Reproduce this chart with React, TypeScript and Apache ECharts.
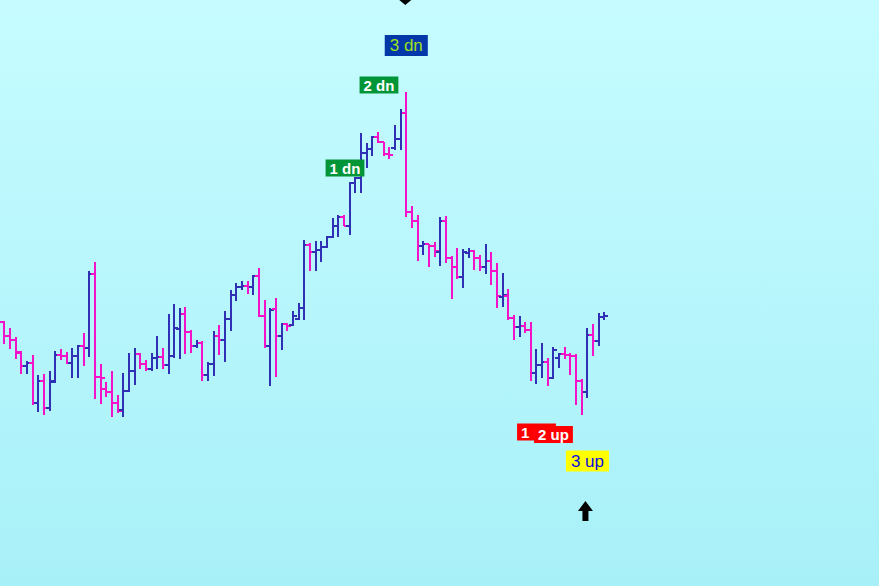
import React, { useEffect, useRef } from "react";
import * as echarts from "echarts";

const CATEGORY_COUNT = 155;
const categories = Array.from({ length: CATEGORY_COUNT }, (_, i) => String(i + 1));

const opens = [
  27.8, 26.4, 26.0, 24.8, 23.4, 23.7, 19.7, 21.9, 19.2, 21.8,
  24.5, 24.4, 23.7, 24.4, 25.4, 25.2, 32.6, 22.3, 21.1, 20.8,
  19.7, 19.0, 20.9, 22.9, 24.6, 23.6, 23.1, 24.2, 24.3, 23.5,
  24.4, 27.1, 28.6, 26.8, 25.4, 25.7, 22.5, 23.6, 26.4, 26.0,
  28.1, 30.5, 31.3, 31.4, 31.3, 32.4, 28.4, 25.4, 29.1, 26.4,
  27.6, 27.5, 28.1, 29.2, 35.5, 34.8, 35.0, 35.3, 36.3, 37.4,
  38.3, 37.4, 41.7, 42.2, 44.7, 45.1, 46.3, 45.8, 44.6, 45.2,
  46.1, 48.7, 38.8, 37.9, 35.4, 35.6, 35.4, 34.8, 37.9, 34.2,
  33.3, 32.3, 34.7, 34.9, 34.2, 33.3, 33.9, 32.9, 30.3, 30.4,
  28.2, 27.3, 27.4, 27.0, 22.7, 23.5, 23.8, 22.2, 24.2, 24.6,
  24.5, 24.4, 21.9, 20.8, 26.5, 25.9, 28.3,
];
const highs = [
  27.9, 27.2, 26.3, 24.9, 23.9, 24.5, 22.5, 22.6, 22.9, 24.9,
  25.1, 24.8, 25.2, 25.5, 26.7, 32.9, 33.8, 23.6, 21.8, 22.9,
  20.5, 22.7, 24.7, 25.2, 24.7, 24.0, 24.7, 26.4, 25.2, 28.6,
  29.6, 29.2, 29.3, 27.0, 26.0, 25.9, 23.8, 26.9, 27.5, 28.9,
  31.0, 31.7, 31.9, 31.9, 32.5, 33.2, 30.0, 29.2, 30.2, 27.7,
  27.7, 28.9, 29.7, 36.0, 35.7, 35.9, 35.9, 36.4, 38.2, 38.5,
  38.5, 41.8, 42.3, 46.7, 45.7, 46.4, 46.8, 45.8, 45.3, 47.5,
  49.1, 50.8, 39.4, 38.5, 35.9, 35.6, 35.8, 38.3, 38.4, 34.4,
  35.2, 35.1, 35.2, 35.0, 34.5, 35.6, 34.8, 33.7, 32.7, 31.1,
  28.5, 28.4, 27.8, 27.8, 25.1, 25.7, 24.2, 25.3, 24.7, 25.3,
  24.7, 24.6, 22.1, 27.2, 27.6, 28.7, 28.8,
];
const lows = [
  25.6, 25.1, 24.1, 22.6, 22.6, 19.5, 18.8, 18.5, 18.9, 21.7,
  24.0, 23.6, 22.2, 22.2, 23.4, 24.3, 20.1, 19.6, 20.3, 18.3,
  18.7, 18.3, 20.8, 21.5, 23.1, 22.9, 22.9, 23.1, 23.1, 22.6,
  24.2, 24.1, 24.6, 24.7, 25.2, 21.9, 21.9, 22.4, 24.5, 23.8,
  26.9, 29.9, 31.0, 30.6, 30.5, 28.3, 25.2, 21.4, 22.3, 25.0,
  26.9, 27.4, 28.0, 28.0, 32.9, 32.9, 33.8, 35.2, 36.2, 36.3,
  37.4, 36.5, 40.7, 40.7, 43.2, 44.4, 45.7, 44.4, 44.1, 45.0,
  45.0, 38.3, 37.2, 33.9, 34.5, 33.3, 34.3, 33.4, 33.7, 30.1,
  32.1, 31.2, 34.2, 33.0, 32.9, 32.6, 31.5, 29.2, 29.3, 28.0,
  26.0, 26.3, 26.7, 21.9, 21.6, 22.2, 21.4, 22.1, 23.2, 24.1,
  22.5, 19.5, 18.5, 20.2, 24.4, 25.4, 28.0,
];
const closes = [
  26.4, 26.0, 24.7, 23.4, 23.7, 19.7, 21.9, 19.2, 21.9, 24.5,
  24.4, 23.7, 24.4, 25.4, 25.2, 32.6, 22.3, 22.2, 20.8, 19.7,
  18.9, 20.9, 22.9, 24.6, 23.6, 23.1, 24.2, 24.3, 23.5, 24.4,
  27.2, 28.6, 26.8, 25.4, 25.7, 22.5, 23.6, 26.4, 26.0, 28.1,
  30.5, 31.3, 31.4, 31.3, 32.4, 28.4, 25.4, 29.0, 26.4, 27.6,
  27.4, 28.4, 29.2, 35.5, 34.8, 35.0, 35.3, 36.3, 37.4, 38.3,
  37.4, 41.7, 42.2, 44.7, 45.1, 46.3, 45.8, 44.6, 44.5, 46.1,
  48.7, 38.8, 37.9, 35.4, 35.6, 35.4, 34.9, 37.9, 34.2, 33.3,
  32.3, 34.8, 34.9, 34.2, 33.3, 33.9, 32.9, 30.4, 30.5, 28.2,
  27.3, 27.4, 27.0, 22.7, 23.5, 23.8, 22.2, 25.0, 24.6, 24.5,
  24.4, 21.9, 20.8, 26.5, 25.9, 28.3, 28.4,
];

// annotation labels: text, bar index, price level
const labelTexts = ["1 dn", "2 dn", "3 dn", "1 up", "2 up", "3 up"];
const labelIndex = [60, 66, 71, 94, 97, 103];
const labelPrice = [43.2, 51.5, 55.45, 16.8, 16.55, 13.9];

// arrows: bar index, tip price, direction
const arrowIndex = [71, 103];
const arrowPrice = [59.5, 9.9];
const arrowDir = ["down", "up"];

const UP_COLOR = "#3030b4";
const DOWN_COLOR = "#f412c8";

const labelStyles: Record<string, any> = {
  "1 dn": { bg: "#009638", color: "#ffffff", bold: true, size: 15, pad: [1, 4, 0, 4], dx: 1, dy: 0 },
  "2 dn": { bg: "#009638", color: "#ffffff", bold: true, size: 15, pad: [1, 4, 0, 4], dx: 1, dy: 0 },
  "3 dn": { bg: "#0438a8", color: "#9ee01a", bold: false, size: 17, pad: [2, 5, 1, 5], dx: 0, dy: 0 },
  "1 up": { bg: "#ff0000", color: "#ffffff", bold: true, size: 15, pad: [1, 4, 0, 4], dx: 0, dy: 0 },
  "2 up": { bg: "#ff0000", color: "#ffffff", bold: true, size: 15, pad: [1, 4, 0, 4], dx: 0, dy: 0 },
  "3 up": { bg: "#ffff00", color: "#0c0ce0", bold: false, size: 17, pad: [2, 5, 1, 5], dx: 0, dy: 0 },
};

export default function App() {
  const ref = useRef<HTMLDivElement>(null);

  useEffect(() => {
    if (!ref.current) return;
    const chart = echarts.init(ref.current, undefined, { renderer: "svg" });

    const ohlc = opens.map((o, i) => [i, o, highs[i], lows[i], closes[i]]);

    const labelData = labelTexts.map((t, k) => {
      const s = labelStyles[t];
      return {
        value: [labelIndex[k], labelPrice[k]],
        label: {
          show: true,
          position: "inside",
          formatter: t,
          color: s.color,
          opacity: 1,
          fontSize: s.size,
          fontWeight: s.bold ? "bold" : "normal",
          fontFamily: "Liberation Sans, Arial, sans-serif",
          backgroundColor: s.bg,
          padding: s.pad,
          offset: [s.dx, s.dy],
          lineHeight: s.size + 1,
        },
      };
    });

    const arrowData = arrowIndex.map((idx, k) => [idx, arrowPrice[k], arrowDir[k] === "up" ? 1 : -1]);

    chart.setOption({
      animation: false,
      grid: { left: 1.5, top: 0, width: 879, height: 586 },
      xAxis: {
        type: "category",
        data: categories,
        show: false,
        boundaryGap: true,
      },
      yAxis: {
        type: "value",
        min: 1.4,
        max: 60,
        show: false,
        splitLine: { show: false },
      },
      series: [
        {
          type: "custom",
          data: ohlc,
          encode: { x: 0, y: [1, 2, 3, 4] },
          renderItem: (params: any, api: any) => {
            const i = api.value(0);
            const o = api.value(1);
            const h = api.value(2);
            const l = api.value(3);
            const c = api.value(4);
            const po = api.coord([i, o]);
            const ph = api.coord([i, h]);
            const pl = api.coord([i, l]);
            const pc = api.coord([i, c]);
            const x = Math.round(po[0]);
            const color = c >= o ? UP_COLOR : DOWN_COLOR;
            const st = { stroke: color, lineWidth: 2 };
            return {
              type: "group",
              children: [
                { type: "line", shape: { x1: x, y1: ph[1], x2: x, y2: pl[1] }, style: st },
                { type: "line", shape: { x1: x - 4, y1: Math.round(po[1]), x2: x, y2: Math.round(po[1]) }, style: st },
                { type: "line", shape: { x1: x, y1: Math.round(pc[1]), x2: x + 4, y2: Math.round(pc[1]) }, style: st },
              ],
            };
          },
        },
        {
          type: "custom",
          data: arrowData,
          encode: { x: 0, y: 1 },
          renderItem: (params: any, api: any) => {
            const p = api.coord([api.value(0), api.value(1)]);
            const d = api.value(2); // 1 = up (tip on top), -1 = down
            const x = p[0] - (d > 0 ? 2 : 1);
            const y = p[1];
            const hw = d > 0 ? 7.5 : 9;
            const hh = d > 0 ? 10 : 7.5;
            const sw = 3;
            const sl = 20;
            const pts = [
              [0, 0], [hw, hh], [sw, hh], [sw, sl], [-sw, sl], [-sw, hh], [-hw, hh],
            ].map(([dx, dy]) => [x + dx, y + dy * d]);
            return { type: "polygon", shape: { points: pts }, style: { fill: "#000000" } };
          },
        },
        {
          type: "scatter",
          data: labelData,
          symbolSize: 0,
          itemStyle: { color: "transparent", opacity: 1 },
          emphasis: { disabled: true },
          z: 5,
        },
      ],
    });

    return () => chart.dispose();
  }, []);

  return (
    <div
      ref={ref}
      style={{
        position: "fixed",
        left: 0,
        top: 0,
        width: 879,
        height: 586,
        background: "linear-gradient(to bottom, #c6fcff 0%, #a8f0f8 100%)",
      }}
    />
  );
}
